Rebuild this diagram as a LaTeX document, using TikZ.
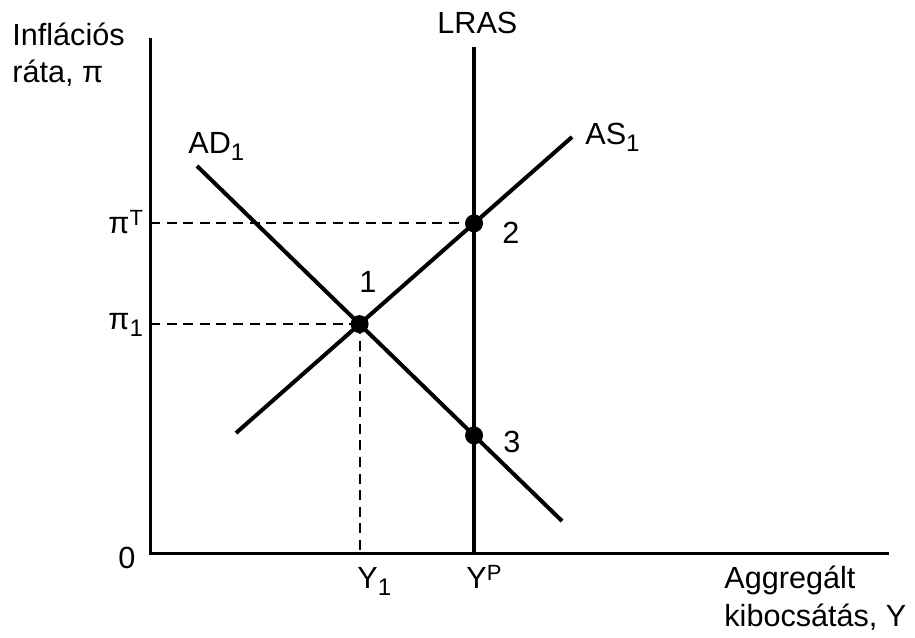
\documentclass[tikz,border=0pt]{standalone}
\usepackage{fontspec}
\setmainfont{Liberation Sans}
\newcommand\mysub[1]{\raisebox{-3.6pt}{\fontsize{12}{14}\selectfont #1}}
\newcommand\mysup[1]{\raisebox{3.6pt}{\fontsize{11}{13}\selectfont #1}}
\begin{document}
\begin{tikzpicture}[x=0.5pt,y=-0.5pt,
  lbl/.style={inner sep=0pt,anchor=base west,font=\fontsize{15.3}{18}\selectfont},
  axisline/.style={line width=1.5pt},
  curve/.style={line width=2pt},
  guide/.style={line width=1pt,dash pattern=on 5pt off 3.3pt},
  dot/.style={circle,fill=black,inner sep=0pt,minimum size=9pt}]
\useasboundingbox (0,0) rectangle (915,637);
% axes
\coordinate (O) at (150,553);
\coordinate (ytop) at (150,38);
\coordinate (xend) at (889,553);
\draw[axisline] (ytop) -- (O) -- (xend);
% curves
\coordinate (lrasT) at (474,47);
\coordinate (lrasB) at (474,553);
\coordinate (asA) at (236,433);
\coordinate (asB) at (572,137);
\coordinate (adA) at (197,166);
\coordinate (adB) at (562,521);
\draw[curve] (lrasT) -- (lrasB);
\draw[curve] (asA) -- (asB);
\draw[curve] (adA) -- (adB);
% intersections
\coordinate (q1) at (intersection of asA--asB and adA--adB);
\coordinate (q2) at (intersection of asA--asB and lrasT--lrasB);
\coordinate (q3) at (intersection of adA--adB and lrasT--lrasB);
% guides
\draw[guide] (O |- q2) -- (q2);
\draw[guide] (O |- q1) -- (q1);
\draw[guide] (q1) -- (q1 |- O);
% dots
\node[dot] (p1) at (q1) {};
\node[dot] (p2) at (q2) {};
\node[dot] (p3) at (q3) {};
% labels
\node[lbl] (yl1) at (12,45) {Inflációs};
\node[lbl] (yl2) at (12,82) {ráta, π};
\node[lbl] (lras) at (437,33) {LRAS};
\node[lbl] (ad) at (188,153) {AD\mysub{1}};
\node[lbl] (as) at (585,144) {AS\mysub{1}};
\node[lbl] (piT) at (108,233) {π\mysup{T}};
\node[lbl] (pi1) at (108,329) {π\mysub{1}};
\node[lbl] (zero) at (118,568) {0};
\node[lbl] (y1) at (357,588) {Y\mysub{1}};
\node[lbl] (yp) at (466,588) {Y\mysup{P}};
\node[lbl] (xl1) at (724,588) {Aggregált};
\node[lbl] (xl2) at (724,626) {kibocsátás, Y};
\node[lbl] (n1) at (359,292) {1};
\node[lbl] (n2) at (502,243) {2};
\node[lbl] (n3) at (503,452) {3};
\end{tikzpicture}
\end{document}
